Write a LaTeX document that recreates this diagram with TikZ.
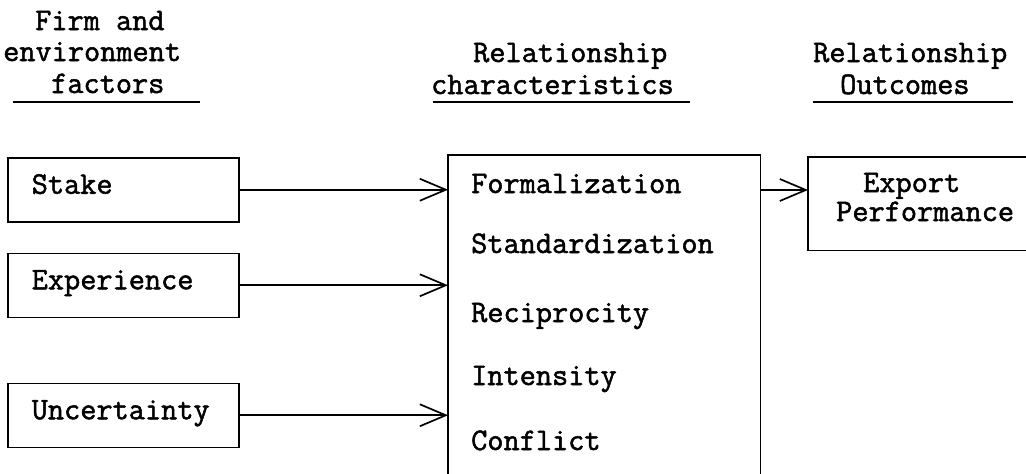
\documentclass[tikz,border=0pt]{standalone}
\usepackage{fontspec}
\usetikzlibrary{arrows.meta}
\newfontfamily\twfam{Latin Modern Mono}[FakeBold=1.6]
\newcommand\twfont{\twfam\fontsize{31.4}{33}\selectfont}
\begin{document}
\begin{tikzpicture}[x=1pt,y=-1pt,
  every node/.style={font=\twfont, inner sep=0pt},
  lbl/.style={anchor=base west, text height=19pt, text depth=6pt},
  fbox/.style={draw, line width=1.5pt, anchor=north west, minimum width=231pt, minimum height=64pt,
    inner xsep=24pt, text width=183pt, align=left, text height=19pt, text depth=11pt},
  arr/.style={line width=1.7pt, -{Straight Barb[length=26pt,width=22pt,line width=1.7pt]}},
  uline/.style={line width=2.2pt},
  side/.style={line width=1.6pt}]
\useasboundingbox (0,0) rectangle (1026,474);

% headings
\node[lbl] (h1a) at (35,30) {Firm and};
\node[lbl] (h1b) at (3,61) {environment};
\node[lbl] (h1c) at (51,93) {factors};
\draw[uline] (13,102) -- (200,102);

\node[lbl] (h2a) at (473,62) {Relationship};
\node[lbl] (h2b) at (431,94) {characteristics};
\draw[uline] (433,102) -- (690,102);

\node[lbl] (h3a) at (813,62) {Relationship};
\node[lbl] (h3b) at (840,94) {Outcomes};
\draw[uline] (813,102) -- (1013,102);

% left boxes
\node[fbox] (stake) at (7,157) {Stake};
\node[fbox] (exper) at (7,252.5) {Experience};
\node[fbox] (uncer) at (7,382.5) {Uncertainty};

% central box (open at the bottom)
\node[anchor=north west, minimum width=312pt, minimum height=319pt] (big) at (448,155) {};
\draw[side] (big.south west) -- (big.north west) -- (big.north east) -- (big.south east);
\node[lbl] (c1) at (471,193) {Formalization};
\node[lbl] (c2) at (471,253) {Standardization};
\node[lbl] (c3) at (471,322) {Reciprocity};
\node[lbl] (c4) at (471,385) {Intensity};
\node[lbl] (c5) at (471,450) {Conflict};

% outcome box (open at the right)
\node[anchor=north west, minimum width=218pt, minimum height=93pt] (exp) at (808,157) {};
\draw[side] (exp.north east) -- (exp.north west) -- (exp.south west) -- (exp.south east);
\node[lbl] (e1) at (863,192) {Export};
\node[lbl] (e2) at (836,221) {Performance};

% connectors
\draw[arr] (stake.east) -- (stake.east -| big.west);
\draw[arr] (exper.east) -- (exper.east -| big.west);
\draw[arr] (uncer.east) -- (uncer.east -| big.west);
\coordinate (bigout) at (760,190);
\draw[arr] (bigout) -- (bigout -| exp.west);
\end{tikzpicture}
\end{document}
